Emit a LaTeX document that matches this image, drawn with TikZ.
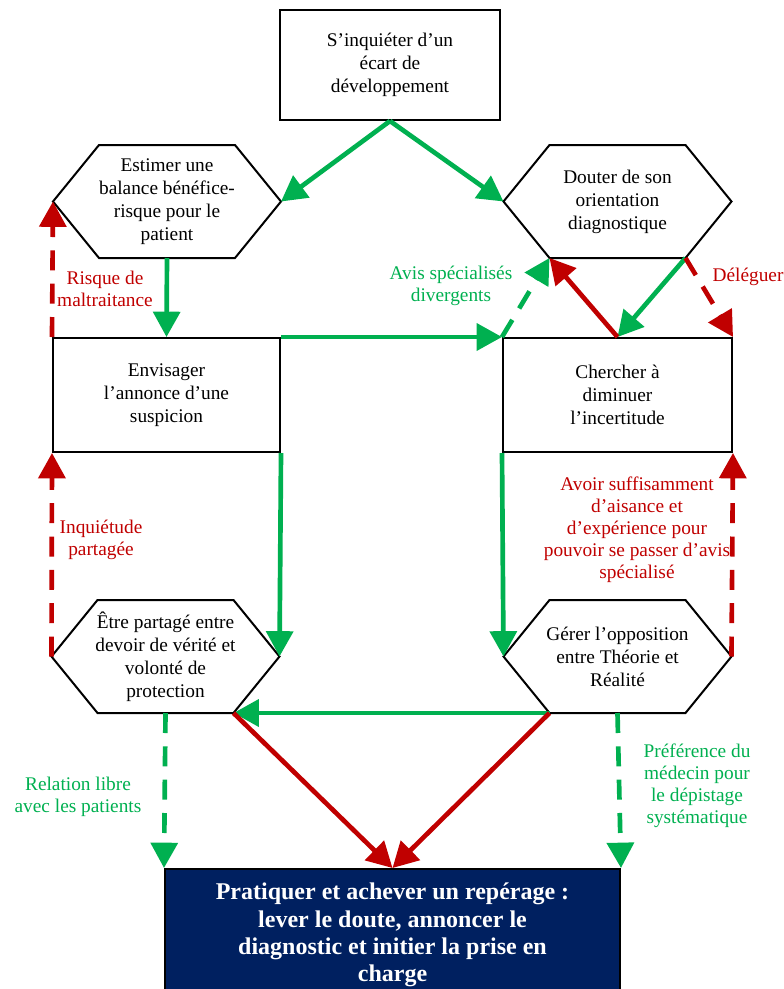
\documentclass[tikz,border=0pt]{standalone}
\usepackage{fontspec}
\setmainfont{Liberation Serif}
\usetikzlibrary{arrows.meta, positioning, calc}
\definecolor{vert}{RGB}{0,176,80}
\definecolor{rouge}{RGB}{192,0,0}
\definecolor{marine}{RGB}{0,32,96}
\tikzset{
x=0.75pt, % one unit is one pixel
y=-0.75pt, % y grows downwards
>={Triangle[length=19pt, width=20pt]}, % big filled arrow heads
texte/.style={align=center, font=\fontsize{14.5}{17.25}\selectfont}, % text inside the shapes
carre/.style={draw, line width=1.5pt, fill=white}, % rectangular boxes
hexa/.style={draw, line width=1.5pt, fill=white, line join=miter}, % hexagon outline
plein/.style={->, line width=3.5pt}, % solid arrows
tirets/.style={->, line width=3.5pt, dash pattern=on 15pt off 10pt}, % dashed arrows
etiquette/.style={align=center, font=\fontsize{14.5}{16.5}\selectfont}, % arrow labels
}
\newcommand{\hexagone}[4]{% name, x, y, text
  \draw[hexa] (#2,#3) ++(-114,0) coordinate (#1-w) -- ++(46,-56.5) coordinate (#1-nw)
    -- ++(136,0) coordinate (#1-ne) -- ++(46,56.5) coordinate (#1-e)
    -- ++(-46,56.5) coordinate (#1-se) -- ++(-136,0) coordinate (#1-sw) -- cycle;
  \node[texte] (#1) at (#2,#3) {#4};
  \coordinate (#1-s) at (#2,#3+56.5);
}

\begin{document}
\begin{tikzpicture}
    \useasboundingbox (0,0) rectangle (783,989);
    % boxes and hexagons
    \node[carre, texte, minimum width=165pt, minimum height=82.5pt] (inquieter) at (390,65) {S’inquiéter d’un\\écart de\\développement};
    \hexagone{estimer}{167}{201.5}{Estimer une\\balance bénéfice-\\risque pour le\\patient}
    \hexagone{douter}{617.5}{201.5}{Douter de son\\orientation\\diagnostique}
    \node[carre, texte, minimum width=170.25pt, minimum height=85.5pt] (envisager) at (166.5,395) {Envisager\\l’annonce d’une\\suspicion};
    \node[carre, texte, minimum width=171.75pt, minimum height=85.5pt] (chercher) at (617.5,395) {Chercher à\\diminuer\\l’incertitude};
    \hexagone{etre}{165.5}{656.5}{Être partagé entre\\devoir de vérité et\\volonté de\\protection}
    \hexagone{gerer}{617.5}{656.5}{Gérer l’opposition\\entre Théorie et\\Réalité}
    \node[carre, anchor=north, fill=marine, text=white, minimum width=341.25pt, minimum height=99pt,
      align=center, font=\bfseries\fontsize{18}{20.5}\selectfont] (reperage) at (392.5,868)
      {Pratiquer et achever un repérage :\\lever le doute, annoncer le\\diagnostic et initier la prise en\\charge};
    % green links
    \draw[plein, vert] (inquieter.south) -- (estimer-e);
    \draw[plein, vert] (inquieter.south) -- (douter-w);
    \draw[plein, vert] (estimer-s) -- (envisager.north);
    \draw[plein, vert] (envisager.north east) -- (chercher.north west);
    \draw[tirets, vert] (chercher.north west) -- (douter-sw);
    \draw[plein, vert] (douter-se) -- (chercher.north);
    \draw[plein, vert] (envisager.south east) -- (etre-e);
    \draw[plein, vert] (chercher.south west) -- (gerer-w);
    \draw[plein, vert] (gerer-sw) -- (etre-se);
    \draw[tirets, vert] (etre-s) -- (reperage.north west);
    \draw[tirets, vert] (gerer-s) -- (reperage.north east);
    % red links
    \draw[plein, rouge] (chercher.north) -- (douter-sw);
    \draw[tirets, rouge] (douter-se) -- (chercher.north east);
    \draw[tirets, rouge] (envisager.north west) -- (estimer-w);
    \draw[tirets, rouge] (etre-w) -- (envisager.south west);
    \draw[tirets, rouge] (gerer-e) -- (chercher.south east);
    \draw[plein, rouge] (etre-se) -- (reperage.north);
    \draw[plein, rouge] (gerer-sw) -- (reperage.north);
    % labels
    \node[etiquette, rouge] (risque) at (105,289) {Risque de\\maltraitance};
    \node[etiquette, vert] (avis) at (451,286) {Avis spécialisés\\divergents};
    \node[etiquette, rouge] (deleguer) at (748,277) {Déléguer};
    \node[etiquette, rouge] (inquietude) at (101,540) {Inquiétude\\partagée};
    \node[etiquette, rouge] (aisance) at (637,530) {Avoir suffisamment\\d’aisance et\\d’expérience pour\\pouvoir se passer d’avis\\spécialisé};
    \node[etiquette, vert] (relation) at (78,797) {Relation libre\\avec les patients};
    \node[etiquette, vert] (preference) at (697,786) {Préférence du\\médecin pour\\le dépistage\\systématique};
\end{tikzpicture}
\end{document}
